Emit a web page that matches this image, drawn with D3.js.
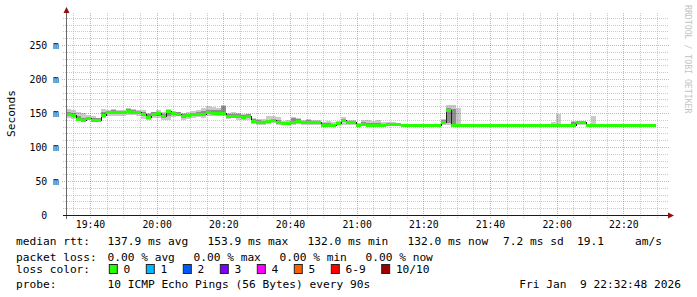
<!DOCTYPE html>
<html>
<head>
<meta charset="utf-8">
<script src="https://cdn.jsdelivr.net/npm/d3@7/dist/d3.min.js"></script>
<style>
  body { margin: 0; background: #fff; }
  svg { display: block; font-family: 'DejaVu Sans Mono', monospace; }
</style>
</head>
<body>
<div id="graf"></div>
<script>
// I. Datos
const start = new Date(2026, 0, 9, 19, 32, 48)
const end = new Date(2026, 0, 9, 22, 32, 48)
const stepSec = 90

const median = [148,147,141,140,142,140,140,147,151,151,
  151,151,153,152,151,148,144,149,150,146,
  153,150,149,145,147,148,149,149,151,150,
  150,150,146,146,145,144,146,138,136,136,
  138,139,136,135,135,136,138,136,136,136,
  136,133,133,133,135,139,136,136,133,134,
  133,133,133,133,134,134,134,133,132,133,
  132,132,133,132,132,137,154,132,132,132,
  132,132,132,132,132,132,132,132,132,132,
  132,132,132,132,132,132,132,132,132,132,
  132,133,137,136,132,132,132,132,132,132,
  132,132,132,132,132,132,132,132]

const pingMax = [156,154,151,150,147,145,143,156,155,156,
  155,154,158,156,155,154,150,152,154,151,
  156,153,152,150,151,153,155,158,160,159,
  158,162,150,151,150,149,149,143,141,141,
  145,146,144,138,139,144,143,140,141,140,
  139,136,138,136,138,144,140,139,135,139,
  139,138,139,136,136,136,135,134,134,134,
  133,134,134,133,133,141,162,161,158,133,
  133,133,133,133,134,133,133,133,133,133,
  133,133,133,133,133,133,133,137,149,133,
  133,138,138,137,134,145,133,133,133,133,
  133,133,133,133,133,133,133,133]

const pingHi = [152,150,146,143,144,142,142,152,153,154,
  152,153,156,154,153,151,148,151,152,149,
  154,152,151,148,149,150,152,153,155,155,
  154,160,148,148,148,147,148,141,139,138,
  140,141,139,137,137,142,141,138,139,138,
  137,135,135,134,137,141,138,138,134,136,
  135,135,135,134,135,135,135,134,133,133,
  133,133,133,133,133,140,158,156,134,133,
  133,133,133,133,133,133,133,133,133,133,
  133,133,133,133,133,133,133,134,134,133,
  133,137,137,136,133,133,133,133,133,133,
  133,133,133,133,133,133,133,133]

const pingLo = [145,144,139,139,140,139,139,144,148,149,
  148,149,150,149,148,145,141,146,146,143,
  146,147,147,142,144,145,146,146,148,147,
  148,147,144,144,143,141,143,136,135,134,
  136,137,135,133,133,134,136,134,134,134,
  134,132,132,132,133,136,134,134,132,133,
  132,132,132,132,132,133,133,132,131,132,
  131,131,132,131,131,134,135,131,131,131,
  131,131,131,131,131,131,131,131,131,131,
  131,131,131,131,131,131,131,131,131,131,
  131,131,134,134,131,131,131,131,131,131,
  131,131,131,131,131,131,131,131]

const pingMin = [142,141,138,138,139,138,138,142,145,146,
  145,146,147,147,145,141,139,143,143,140,
  140,144,145,139,141,142,144,143,145,145,
  146,145,141,142,140,139,140,134,133,133,
  134,135,133,132,132,133,134,133,132,132,
  132,131,131,131,132,133,133,133,131,132,
  131,131,131,131,131,132,132,131,131,131,
  131,131,131,131,131,132,133,131,131,131,
  131,131,131,131,131,131,131,131,131,131,
  131,131,131,131,131,131,131,131,131,131,
  131,131,132,132,131,131,131,131,131,131,
  131,131,131,131,131,131,131,131]

const yMax = 294
const yTicks = [0, 50, 100, 150, 200, 250]
const xTicks = ['19:40', '20:00', '20:20', '20:40', '21:00', '21:20', '21:40', '22:00', '22:20']

const lossLabels = ['0', '1', '2', '3', '4', '5', '6-9', '10/10']
const lossColors = ['#26ff00', '#00b8ff', '#0059ff', '#7e00ff', '#ff00ff', '#ff5e00', '#ff0000', '#a10000']

const rttStats = ['137.9 ms avg', '153.9 ms max', '132.0 ms min', '132.0 ms now', '7.2 ms sd']
const ampsStat = ['19.1', 'am/s']
const lossStats = ['0.00 % avg', '0.00 % max', '0.00 % min', '0.00 % now']
const probeText = '10 ICMP Echo Pings (56 Bytes) every 90s'
const stampText = 'Fri Jan  9 22:32:48 2026'

// II. Configuración
const ancho_total = 697
const alto_total = 297
const plotL = 66, plotR = 666, plotT = 15, plotB = 215

// espacios que no se colapsan
const nb = s => s.replace(/ /g, '\u00a0')

const svg = d3.select('#graf').append('svg')
  .attr('width', ancho_total)
  .attr('height', alto_total)

svg.append('rect').attr('width', ancho_total).attr('height', alto_total).attr('fill', '#fff')

const x = d3.scaleTime().domain([start, end]).range([plotL, plotR])
const y = d3.scaleLinear().domain([0, yMax]).range([plotB, plotT])

const data = median.map((m, i) => ({
  t0: new Date(+start + i * stepSec * 1000),
  t1: new Date(+start + (i + 1) * stepSec * 1000),
  med: m, min: pingMin[i], lo: pingLo[i], hi: pingHi[i], max: pingMax[i]
}))

// III. Humo (smoke)
const smoke = svg.append('g').attr('shape-rendering', 'crispEdges')

smoke.selectAll('rect.outer')
  .data(data).enter().append('rect')
  .attr('class', 'outer')
  .attr('x', d => x(d.t0))
  .attr('width', d => x(d.t1) - x(d.t0))
  .attr('y', d => y(d.max))
  .attr('height', d => y(d.min) - y(d.max))
  .attr('fill', '#cacaca')

smoke.selectAll('rect.inner')
  .data(data).enter().append('rect')
  .attr('class', 'inner')
  .attr('x', d => x(d.t0))
  .attr('width', d => x(d.t1) - x(d.t0))
  .attr('y', d => y(d.hi))
  .attr('height', d => y(d.lo) - y(d.hi))
  .attr('fill', '#8e8e8e')

// IV. Rejilla
const grid = svg.append('g').attr('fill', 'none').attr('stroke-dasharray', '1,1')

const minorY = y.ticks(30).filter(v => v % 50 != 0)
const majorY = yTicks.filter(v => v > 0)
const minorX = x.ticks(d3.timeMinute.every(5)).filter(t => t.getMinutes() % 20 != 0)
const majorX = x.ticks(d3.timeMinute.every(20))

grid.selectAll('line.hmin').data(minorY).enter().append('line')
  .attr('x1', plotL - 3).attr('x2', plotR + 3)
  .attr('y1', d => Math.round(y(d)) + 0.5).attr('y2', d => Math.round(y(d)) + 0.5)
  .attr('stroke', 'rgba(140,140,140,0.45)')

grid.selectAll('line.vmin').data(minorX).enter().append('line')
  .attr('x1', d => Math.round(x(d)) + 0.5).attr('x2', d => Math.round(x(d)) + 0.5)
  .attr('y1', plotT - 2).attr('y2', plotB + 3)
  .attr('stroke', 'rgba(140,140,140,0.45)')

grid.selectAll('line.hmaj').data(majorY).enter().append('line')
  .attr('x1', plotL - 4).attr('x2', plotR + 3)
  .attr('y1', d => Math.round(y(d)) + 0.5).attr('y2', d => Math.round(y(d)) + 0.5)
  .attr('stroke', 'rgba(210,0,0,0.35)')

grid.selectAll('line.vmaj').data(majorX).enter().append('line')
  .attr('x1', d => Math.round(x(d)) + 0.5).attr('x2', d => Math.round(x(d)) + 0.5)
  .attr('y1', plotT - 2).attr('y2', plotB + 3)
  .attr('stroke', 'rgba(210,0,0,0.35)')

// V. Mediana
const stepPts = data.map(d => [d.t0, d.med])
stepPts.push([data[data.length - 1].t1, data[data.length - 1].med])

const linea = d3.line()
  .x(d => x(d[0]))
  .y(d => Math.round(y(d[1])) + 0.5)
  .curve(d3.curveStepAfter)

svg.append('path')
  .datum(stepPts)
  .attr('d', linea)
  .attr('fill', 'none')
  .attr('stroke', '#202020')
  .attr('stroke-width', 1)
  .attr('shape-rendering', 'crispEdges')

svg.append('g').attr('shape-rendering', 'crispEdges')
  .selectAll('rect').data(data).enter().append('rect')
  .attr('x', d => x(d.t0))
  .attr('width', d => x(d.t1) - x(d.t0))
  .attr('y', d => Math.round(y(d.med)) - 1)
  .attr('height', 3)
  .attr('fill', lossColors[0])

// VI. Ejes
svg.append('line')
  .attr('x1', plotL + 0.5).attr('x2', plotL + 0.5)
  .attr('y1', plotT - 2).attr('y2', plotB + 4)
  .attr('stroke', '#6a6a6a')

svg.append('line')
  .attr('x1', plotL - 3).attr('x2', plotR + 3)
  .attr('y1', plotB + 0.5).attr('y2', plotB + 0.5)
  .attr('stroke', '#1a1a1a')

svg.append('path')
  .attr('d', `M${plotL - 2.5},${plotT - 2}L${plotL + 3.5},${plotT - 2}L${plotL + 0.5},${plotT - 8}Z`)
  .attr('fill', '#8f1010')

svg.append('path')
  .attr('d', `M${plotR + 2},${plotB - 2.5}L${plotR + 2},${plotB + 3.5}L${plotR + 8},${plotB + 0.5}Z`)
  .attr('fill', '#8f1010')

const yAxis = d3.axisLeft(y)
  .tickValues(yTicks)
  .tickSize(0)
  .tickPadding(7)
  .tickFormat(d => d === 0 ? nb('0  ') : nb(d + ' m'))

const gy = svg.append('g')
  .attr('transform', `translate(${plotL},0)`)
  .call(yAxis)
gy.select('.domain').remove()
gy.selectAll('text')
  .attr('font-family', 'DejaVu Sans Mono')
  .attr('font-size', '9.8px')
  .attr('fill', '#000')

const parseT = s => d3.timeParse('%Y-%m-%d %H:%M')('2026-01-09 ' + s)

const xAxis = d3.axisBottom(x)
  .tickValues(xTicks.map(parseT))
  .tickSize(0)
  .tickPadding(6.5)
  .tickFormat(d3.timeFormat('%H:%M'))

const gx = svg.append('g')
  .attr('transform', `translate(0,${plotB})`)
  .call(xAxis)
gx.select('.domain').remove()
gx.selectAll('text')
  .attr('font-family', 'DejaVu Sans Mono')
  .attr('font-size', '9.8px')
  .attr('fill', '#000')

svg.append('text')
  .attr('transform', 'translate(11,113.5) rotate(-90)')
  .attr('text-anchor', 'middle')
  .attr('dominant-baseline', 'central')
  .attr('font-size', '11.2px')
  .text('Seconds')

svg.append('text')
  .attr('transform', 'translate(684.5,5) rotate(90)')
  .attr('font-size', '8.2px')
  .attr('fill', '#c4c4c4')
  .text('RRDTOOL / TOBI OETIKER')

// VII. Leyenda
const leyenda = svg.append('g')
  .attr('font-size', '11.2px')
  .attr('fill', '#000')

const rows = [245, 260.5, 273, 288]

leyenda.append('text').attr('x', 16).attr('y', rows[0]).text('median rtt:')
leyenda.selectAll('text.rtt').data(rttStats).enter().append('text')
  .attr('class', 'rtt')
  .attr('x', (d, i) => [107.5, 207.5, 307.5, 407.5, 503][i])
  .attr('y', rows[0])
  .text(d => d)
leyenda.selectAll('text.amps').data(ampsStat).enter().append('text')
  .attr('class', 'amps')
  .attr('x', (d, i) => [577, 635][i])
  .attr('y', rows[0])
  .text(d => d)

leyenda.append('text').attr('x', 16).attr('y', rows[1]).text('packet loss:')
leyenda.selectAll('text.loss').data(lossStats).enter().append('text')
  .attr('class', 'loss')
  .attr('x', (d, i) => 107.5 + i * 86)
  .attr('y', rows[1])
  .text(d => d)

leyenda.append('text').attr('x', 16).attr('y', rows[2]).text('loss color:')
const posX = []
let acc = 108.8
lossLabels.forEach(l => { posX.push(acc); acc += 30.3 + 6.7 * l.length })

const sw = leyenda.selectAll('g.sw').data(lossLabels).enter().append('g')
  .attr('class', 'sw')
  .attr('transform', (d, i) => `translate(${posX[i]},0)`)
sw.append('rect')
  .attr('x', 0.5).attr('y', rows[2] - 8.5)
  .attr('width', 8).attr('height', 9)
  .attr('fill', (d, i) => lossColors[i])
  .attr('stroke', '#222')
  .attr('stroke-width', 1)
sw.append('text')
  .attr('x', 14.7).attr('y', rows[2])
  .text(d => d)

leyenda.append('text').attr('x', 16).attr('y', rows[3]).text('probe:')
leyenda.append('text').attr('x', 107.5).attr('y', rows[3]).text(probeText)
leyenda.append('text').attr('x', 681).attr('y', rows[3])
  .attr('text-anchor', 'end')
  .text(nb(stampText))
</script>
</body>
</html>
